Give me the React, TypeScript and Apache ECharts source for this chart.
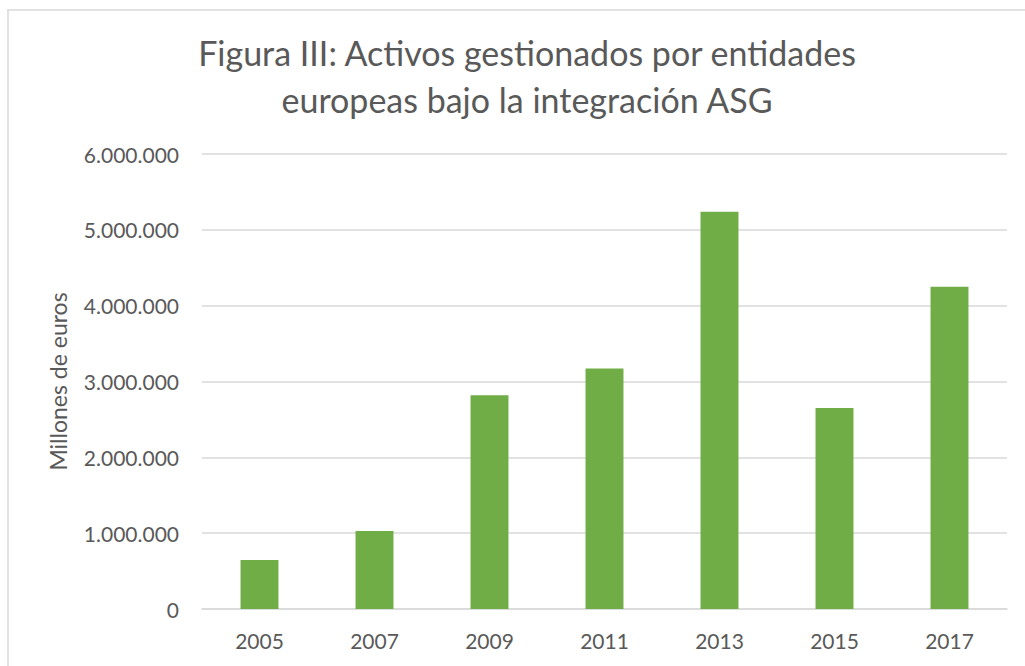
import React, { useEffect, useRef } from "react";
import * as echarts from "echarts";

const titleText = "Figura III: Activos gestionados por entidades\neuropeas bajo la integración ASG";
const yAxisName = "Millones de euros";
const categories = ["2005", "2007", "2009", "2011", "2013", "2015", "2017"];
const values = [645000, 1030000, 2820000, 3170000, 5240000, 2650000, 4250000];
const yMin = 0;
const yMax = 6000000;
const yInterval = 1000000;

const fmt = (v: number) => String(v).replace(/\B(?=(\d{3})+(?!\d))/g, ".");

export default function App() {
  const ref = useRef<HTMLDivElement>(null);
  useEffect(() => {
    if (!ref.current) return;
    const chart = echarts.init(ref.current, undefined, { renderer: "svg" });
    const textColor = "#595959";
    const font = "Lato";
    chart.setOption({
      animation: false,
      backgroundColor: "#ffffff",
      title: {
        text: titleText,
        left: 522,
        top: 24,
        textAlign: "center",
        textStyle: {
          fontFamily: font,
          fontSize: 34,
          fontWeight: "normal",
          color: textColor,
          lineHeight: 47,
        },
      },
      grid: { left: 202, right: 18, top: 154, bottom: 57 },
      xAxis: {
        type: "category",
        data: categories,
        axisLine: { show: true, lineStyle: { color: "#d9d9d9", width: 1.5 } },
        axisTick: { show: false },
        axisLabel: { color: textColor, fontFamily: font, fontSize: 21, margin: 21 },
      },
      yAxis: {
        type: "value",
        min: yMin,
        max: yMax,
        interval: yInterval,
        name: yAxisName,
        nameLocation: "middle",
        nameRotate: 90,
        nameGap: 133,
        nameTextStyle: { color: textColor, fontFamily: font, fontSize: 23 },
        axisLine: { show: false },
        axisTick: { show: false },
        splitLine: { lineStyle: { color: "#d9d9d9", width: 1.5 } },
        axisLabel: {
          color: textColor,
          fontFamily: font,
          fontSize: 21,
          margin: 23,
          formatter: (v: number) => fmt(v),
        },
      },
      series: [
        {
          type: "bar",
          data: values,
          barWidth: "33%",
          itemStyle: { color: "#70AD47" },
        },
      ],
      graphic: [
        {
          type: "line",
          shape: { x1: 7, y1: 10, x2: 1025, y2: 10 },
          style: { stroke: "#d9d9d9", lineWidth: 1.5 },
          silent: true,
        },
        {
          type: "line",
          shape: { x1: 8, y1: 10, x2: 8, y2: 666 },
          style: { stroke: "#d9d9d9", lineWidth: 1.5 },
          silent: true,
        },
      ],
    });
    return () => chart.dispose();
  }, []);
  return (
    <div
      ref={ref}
      style={{ position: "fixed", left: 0, top: 0, width: 1025, height: 666 }}
    />
  );
}
